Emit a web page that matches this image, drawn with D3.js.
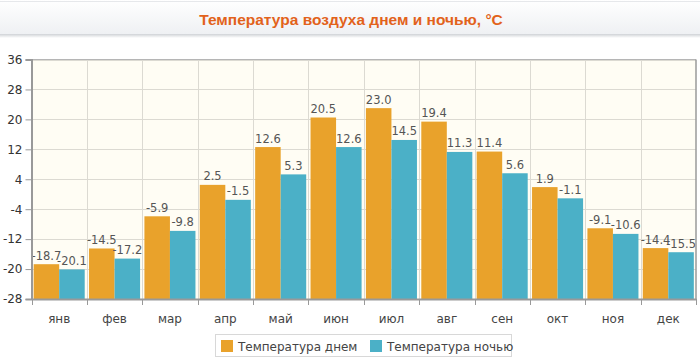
<!DOCTYPE html>
<html><head><meta charset="utf-8">
<script src="https://cdn.jsdelivr.net/npm/d3@7"></script>
<style>
html,body{margin:0;padding:0;background:#fff;}
svg{display:block;}
</style></head>
<body>
<svg id="chart" width="700" height="361"></svg>
<script>
const months = ["янв","фев","мар","апр","май","июн","июл","авг","сен","окт","ноя","дек"];
const dayTemp = [-18.7,-14.5,-5.9,2.5,12.6,20.5,23.0,19.4,11.4,1.9,-9.1,-14.4];
const nightTemp = [-20.1,-17.2,-9.8,-1.5,5.3,12.6,14.5,11.3,5.6,-1.1,-10.6,-15.5];
const yTicks = [-28,-20,-12,-4,4,12,20,28,36];
const seriesNames = ["Температура днем","Температура ночью"];
const titleText = "Температура воздуха днем и ночью, °C";

const colors = ["#e9a22b","#4bb0c7"];
const svg = d3.select("#chart");
const W = 700, H = 361;
const L = 31.5, R = 696, T = 59.5, B = 299;

// header band
const defs = svg.append("defs");
const g1 = defs.append("linearGradient").attr("id","hdr").attr("x1",0).attr("y1",0).attr("x2",0).attr("y2",1);
g1.append("stop").attr("offset","0%").attr("stop-color","#ffffff");
g1.append("stop").attr("offset","100%").attr("stop-color","#eef0f3");
const sh = defs.append("linearGradient").attr("id","shd").attr("x1",0).attr("y1",0).attr("x2",0).attr("y2",1);
sh.append("stop").attr("offset","0%").attr("stop-color","#cfd2d6");
sh.append("stop").attr("offset","100%").attr("stop-color","#ffffff");
svg.append("rect").attr("x",0).attr("y",0).attr("width",W).attr("height",35).attr("fill","url(#hdr)");
svg.append("line").attr("x1",0).attr("x2",W).attr("y1",1.5).attr("y2",1.5).attr("stroke","#e6e8eb");
svg.append("rect").attr("x",0).attr("y",34).attr("width",W).attr("height",4).attr("fill","url(#shd)");
svg.append("text").attr("x",351).attr("y",24.5).attr("text-anchor","middle")
  .attr("font-family","Liberation Sans, Arial, sans-serif").attr("font-weight","bold")
  .attr("font-size","15.5px").attr("fill","#e2621b").text(titleText);

const x = d3.scaleBand().domain(months).range([L,R]).paddingInner(0).paddingOuter(0);
const x1 = d3.scaleBand().domain([0,1]).range([0,x.bandwidth()]).paddingInner(0).paddingOuter(0.085);
const y = d3.scaleLinear().domain([-28,36]).range([B,T]);

// plot background
svg.append("rect").attr("x",L).attr("y",T).attr("width",R-L).attr("height",B-T).attr("fill","#fffdf4");

// grid
svg.append("g").selectAll("line.h").data(yTicks).join("line")
  .attr("x1",L).attr("x2",R).attr("y1",d=>Math.round(y(d))+0.5).attr("y2",d=>Math.round(y(d))+0.5)
  .attr("stroke","#dcdad2").attr("stroke-width",1);
svg.append("g").selectAll("line.v").data(months.slice(1)).join("line")
  .attr("x1",d=>Math.round(x(d))+0.5).attr("x2",d=>Math.round(x(d))+0.5).attr("y1",T).attr("y2",B)
  .attr("stroke","#dcdad2").attr("stroke-width",1);

// bars
const series = [dayTemp, nightTemp];
series.forEach((vals, si) => {
  svg.append("g").selectAll("rect").data(vals).join("rect")
    .attr("x",(d,i)=>x(months[i])+x1(si))
    .attr("width",x1.bandwidth())
    .attr("y",d=>y(d))
    .attr("height",d=>B-y(d))
    .attr("fill",colors[si]);
});
// value labels
series.forEach((vals, si) => {
  svg.append("g").selectAll("text").data(vals).join("text")
    .attr("x",(d,i)=>x(months[i])+x1(si)+x1.bandwidth()/2)
    .attr("y",d=>y(d)-4.5)
    .attr("text-anchor","middle")
    .attr("font-family","DejaVu Sans, Verdana, sans-serif").attr("font-size","11.5px")
    .attr("fill","#555").text(d=>d.toFixed(1));
});

// border
svg.append("line").attr("x1",L).attr("x2",R).attr("y1",T).attr("y2",T).attr("stroke","#b5b5b5");
svg.append("line").attr("x1",R).attr("x2",R).attr("y1",T).attr("y2",B).attr("stroke","#9a9a9a").attr("stroke-width",1.5);

// y axis
const yAxis = d3.axisLeft(y).tickValues(yTicks).tickSize(6).tickPadding(3).tickFormat(d=>String(d));
const ya = svg.append("g").attr("transform",`translate(${L},0)`).call(yAxis);
ya.select(".domain").attr("stroke","#999").attr("stroke-width",2);
ya.selectAll(".tick line").attr("stroke","#999");
ya.selectAll("text").attr("font-family","DejaVu Sans, Verdana, sans-serif").attr("font-size","12px").attr("fill","#333");

// x axis
const xa = svg.append("g").attr("transform",`translate(0,${B})`).call(d3.axisBottom(x).tickSize(0).tickPadding(15));
xa.select(".domain").attr("stroke","#999").attr("stroke-width",2);
xa.selectAll("text").attr("font-family","DejaVu Sans, Verdana, sans-serif").attr("font-size","12px").attr("fill","#444");
svg.append("g").selectAll("line").data(months.concat(["__end"])).join("line")
  .attr("x1",(d,i)=>Math.round(L + i*x.bandwidth())+0.5).attr("x2",(d,i)=>Math.round(L + i*x.bandwidth())+0.5)
  .attr("y1",B).attr("y2",B+6).attr("stroke","#999");

// legend
const lg = svg.append("g");
lg.append("rect").attr("x",215.5).attr("y",334.5).attr("width",296).attr("height",22)
  .attr("fill","#fff").attr("stroke","#d8d8d8");
const legX = [221, 370];
seriesNames.forEach((n,i)=>{
  lg.append("rect").attr("x",legX[i]).attr("y",340).attr("width",12).attr("height",12)
    .attr("fill",colors[i]);
  lg.append("text").attr("x",legX[i]+17).attr("y",350.5)
    .attr("font-family","DejaVu Sans, Verdana, sans-serif").attr("font-size","12px").attr("fill","#444").text(n);
});
</script>
</body></html>
